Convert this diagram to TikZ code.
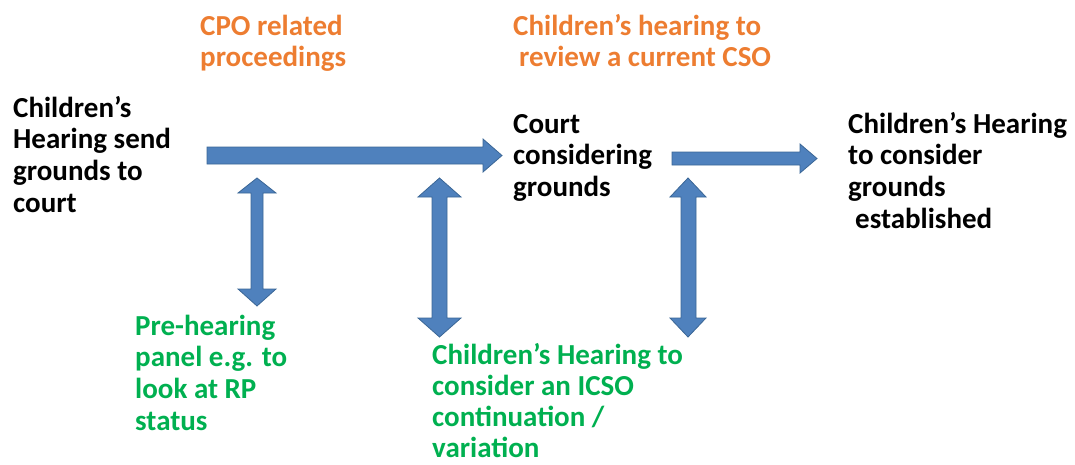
\documentclass[tikz,border=0pt]{standalone}
\usepackage{fontspec}
\setmainfont{Carlito}
\definecolor{arrfill}{HTML}{4F81BD}
\definecolor{arrline}{HTML}{3A6696}
\definecolor{orng}{HTML}{ED7D31}
\definecolor{grn}{HTML}{00B050}
\begin{document}
\begin{tikzpicture}[x=1pt,y=-1pt,
  lbl/.style={anchor=base west,inner sep=0pt,align=left,font=\fontsize{29}{31.7}\selectfont\bfseries},
  blk/.style={fill=arrfill,draw=arrline,line width=0.8pt,line join=miter}]
\useasboundingbox (0,0) rectangle (1075,464);
% text (anchored at the baseline of the last line)
\node[lbl] (send) at (13,212.1) {Children’s\\Hearing send\\grounds to\\court};
\node[lbl,text=orng] (cpo) at (200,66.7) {CPO related\\proceedings};
\node[lbl,text=orng] (cso) at (513,66.7) {Children’s hearing to\\\hspace*{6pt}review a current CSO};
\node[lbl] (court) at (513,196.4) {Court\\considering\\grounds};
\node[lbl] (est) at (848,228.1) {Children’s Hearing\\to consider\\grounds\\\hspace*{7pt}established};
\node[lbl,text=grn] (pre) at (135,430.1) {Pre-hearing\\panel e.g. to\\look at RP\\status};
\node[lbl,text=grn,font=\fontsize{29}{31}\selectfont\bfseries] (icso) at (432,457.5) {Children’s Hearing to\\consider an ICSO\\continuation /\\variation};
% horizontal block arrows
\draw[blk] (207,147) -- (483,147) -- (483,139) -- (502,155.5) -- (483,172) -- (483,164) -- (207,164) -- cycle;
\draw[blk] (672,152) -- (800,152) -- (800,144) -- (817,158.5) -- (800,173) -- (800,165) -- (672,165) -- cycle;
% vertical double block arrows
\draw[blk] (257,178) -- (276,193) -- (263,193) -- (263,289) -- (276,289) -- (257,306) -- (238,289) -- (251,289) -- (251,193) -- (238,193) -- cycle;
\draw[blk] (439.5,178) -- (461,197) -- (447,197) -- (447,318) -- (461,318) -- (439.5,337) -- (418,318) -- (432,318) -- (432,197) -- (418,197) -- cycle;
\draw[blk] (688,178) -- (706,197) -- (696,197) -- (696,318) -- (706,318) -- (688,337) -- (670,318) -- (681,318) -- (681,197) -- (670,197) -- cycle;
\end{tikzpicture}
\end{document}
